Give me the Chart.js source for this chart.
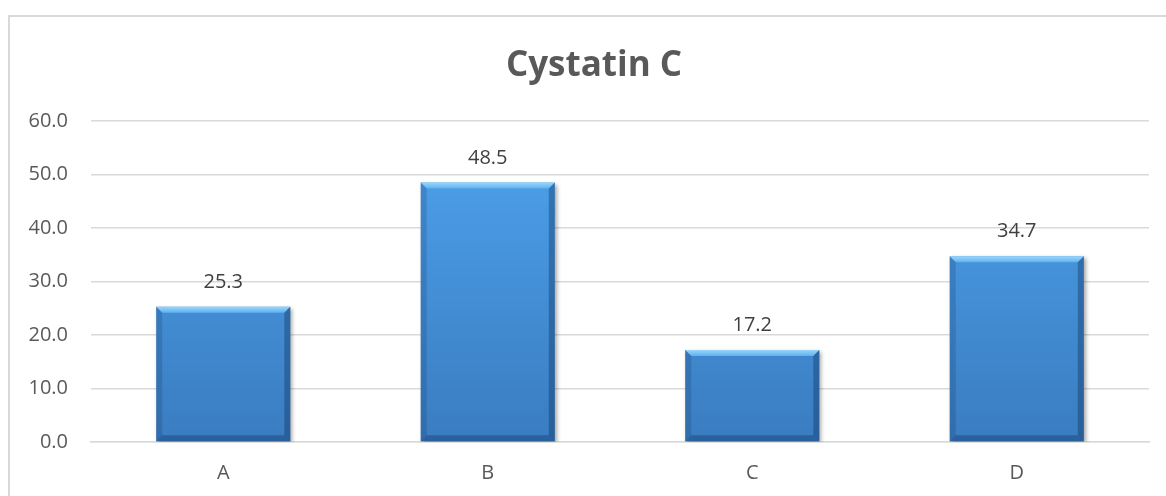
<!DOCTYPE html>
<html>
<head>
<meta charset="utf-8">
<script src="https://cdn.jsdelivr.net/npm/chart.js@4.4.1/dist/chart.umd.min.js"></script>
<style>
html,body{margin:0;padding:0;background:#fff;}
#wrap{width:1166px;height:496px;position:relative;}
</style>
</head>
<body>
<div id="wrap"><canvas id="c" width="1166" height="496"></canvas></div>
<script>
const categories = ['A', 'B', 'C', 'D'];
const values = [25.3, 48.5, 17.2, 34.7];
const yTicks = [0, 10, 20, 30, 40, 50, 60];
const chartTitle = 'Cystatin C';

const FONT = "'Open Sans', 'DejaVu Sans', sans-serif";

const borderPlugin = {
  id: 'outerBorder',
  beforeDraw(chart) {
    const ctx = chart.ctx;
    ctx.save();
    ctx.fillStyle = '#fff';
    ctx.fillRect(0, 0, chart.width, chart.height);
    ctx.strokeStyle = '#d9d9d9';
    ctx.lineWidth = 2;
    ctx.strokeRect(9, 16, chart.width + 20, chart.height + 20);
    ctx.restore();
  }
};

const titlePlugin = {
  id: 'centeredTitle',
  afterDraw(chart) {
    const ctx = chart.ctx;
    ctx.save();
    ctx.font = "bold 35px " + FONT;
    ctx.fillStyle = '#595959';
    ctx.textAlign = 'center';
    ctx.textBaseline = 'alphabetic';
    ctx.fillText(chartTitle, 594, 76);
    ctx.restore();
  }
};

const shadowPlugin = {
  id: 'barShadow',
  beforeDatasetDraw(chart) {
    const ctx = chart.ctx;
    ctx.save();
    ctx.shadowColor = 'rgba(0,0,0,0.35)';
    ctx.shadowBlur = 4;
    ctx.shadowOffsetX = 2;
    ctx.shadowOffsetY = 2;
  },
  afterDatasetDraw(chart) {
    chart.ctx.restore();
  }
};

const bevelPlugin = {
  id: 'bevel',
  afterDatasetsDraw(chart) {
    const ctx = chart.ctx;
    const meta = chart.getDatasetMeta(0);
    meta.data.forEach((bar) => {
      const p = bar.getProps(['x', 'y', 'base', 'width'], true);
      const x0 = p.x - p.width / 2, x1 = p.x + p.width / 2;
      const y0 = p.y, y1 = p.base;
      const b = 6;
      ctx.save();
      let g = ctx.createLinearGradient(0, y0, 0, y0 + b);
      g.addColorStop(0, '#9ad6fa');
      g.addColorStop(1, '#5fb1f0');
      ctx.fillStyle = g;
      ctx.beginPath();
      ctx.moveTo(x0, y0); ctx.lineTo(x1, y0); ctx.lineTo(x1 - b, y0 + b); ctx.lineTo(x0 + b, y0 + b); ctx.closePath();
      ctx.fill();
      ctx.fillStyle = 'rgba(10,40,80,0.18)';
      ctx.beginPath();
      ctx.moveTo(x0, y0); ctx.lineTo(x0 + b, y0 + b); ctx.lineTo(x0 + b, y1 - b); ctx.lineTo(x0, y1); ctx.closePath();
      ctx.fill();
      ctx.fillStyle = 'rgba(10,40,80,0.35)';
      ctx.beginPath();
      ctx.moveTo(x1, y0); ctx.lineTo(x1 - b, y0 + b); ctx.lineTo(x1 - b, y1 - b); ctx.lineTo(x1, y1); ctx.closePath();
      ctx.fill();
      ctx.fillStyle = 'rgba(10,40,80,0.32)';
      ctx.beginPath();
      ctx.moveTo(x0, y1); ctx.lineTo(x0 + b, y1 - b); ctx.lineTo(x1 - b, y1 - b); ctx.lineTo(x1, y1); ctx.closePath();
      ctx.fill();
      ctx.restore();
    });
  }
};

const labelPlugin = {
  id: 'valueLabels',
  afterDatasetsDraw(chart) {
    const ctx = chart.ctx;
    const meta = chart.getDatasetMeta(0);
    ctx.save();
    ctx.font = "20px " + FONT;
    ctx.fillStyle = '#404040';
    ctx.textAlign = 'center';
    ctx.textBaseline = 'alphabetic';
    meta.data.forEach((bar, i) => {
      ctx.fillText(values[i].toFixed(1), bar.x, bar.y - 19);
    });
    ctx.restore();
  }
};

new Chart(document.getElementById('c'), {
  type: 'bar',
  data: {
    labels: categories,
    datasets: [{
      data: values,
      backgroundColor(ctx) {
        const area = ctx.chart.chartArea;
        if (!area) return '#4a9ee8';
        const g = ctx.chart.ctx.createLinearGradient(0, area.top, 0, area.bottom);
        g.addColorStop(0, '#4ea4ef');
        g.addColorStop(1, '#3a7cc0');
        return g;
      },
      borderWidth: 0,
      categoryPercentage: 1,
      barPercentage: 0.507
    }]
  },
  options: {
    responsive: false,
    animation: false,
    devicePixelRatio: 1,
    layout: { padding: { left: 10, right: 17, top: 121, bottom: 11 } },
    plugins: {
      legend: { display: false },
      tooltip: { enabled: false },
      title: { display: false }
    },
    scales: {
      x: {
        afterFit(scale) { scale.height = 43; },
        grid: { display: false, drawTicks: false },
        border: { display: true, color: '#d9d9d9', width: 1.5 },
        ticks: { color: '#595959', font: { family: FONT, size: 20 }, padding: 19 }
      },
      y: {
        min: yTicks[0],
        max: yTicks[yTicks.length - 1],
        afterFit(scale) { scale.width = 81; },
        grid: { color: '#d9d9d9', lineWidth: 1.5, drawTicks: false },
        border: { display: false },
        ticks: {
          stepSize: yTicks[1] - yTicks[0],
          color: '#595959',
          font: { family: FONT, size: 20 },
          padding: 23,
          callback: (v) => Number(v).toFixed(1)
        }
      }
    }
  },
  plugins: [borderPlugin, shadowPlugin, bevelPlugin, labelPlugin, titlePlugin]
});
</script>
</body>
</html>
